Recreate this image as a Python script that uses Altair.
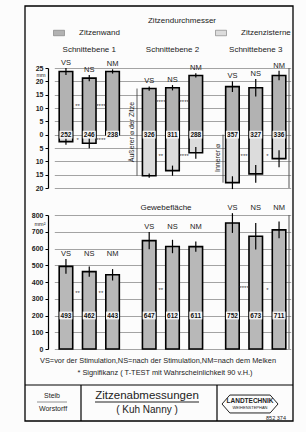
import altair as alt
import pandas as pd

FONT = "Liberation Sans"

groups = ["Schnittebene 1", "Schnittebene 2", "Schnittebene 3"]
measures = ["VS", "NS", "NM"]
parts = ["Zitzenwand", "Zitzenzisterne"]

# Zitzendurchmesser (mm): upper end, lower end, error half-lengths, printed diameter
dm_top = [23.7, 21.2, 23.7, 17.3, 17.6, 22.2, 18.0, 17.6, 22.2]
dm_bottom = [-2.6, -3.2, 0.0, -15.4, -13.5, -6.8, -18.0, -14.7, -9.0]
dm_err_top = [1.3, 1.2, 0.8, 0.8, 1.0, 0.8, 2.0, 3.3, 1.8]
dm_err_bottom = [1.2, 1.9, 0.0, 0.8, 1.9, 2.2, 2.4, 3.3, 3.2]
dm_labels = ["252", "246", "238", "326", "311", "288", "357", "327", "336"]

# Gewebefläche (mm²)
area_values = [493, 462, 443, 647, 612, 611, 752, 673, 711]
area_err = [44, 31, 34, 51, 40, 31, 59, 79, 50]

# significance markers (placed right of the named bar)
sig_dm_group = ["Schnittebene 1"] * 4 + ["Schnittebene 2"] * 4 + ["Schnittebene 3"] * 2
sig_dm_measure = ["VS", "NS", "VS", "NS", "VS", "NS", "VS", "NS", "VS", "NS"]
sig_dm_value = [10.6, 10.6, -1.9, -1.9, 12.1, 12.1, -7.9, -7.9, -7.9, -7.9]
sig_dm_text = ["**", "****", "*", "****", "****", "****", "**", "****", "***", "*"]

sig_area_group = ["Schnittebene 1", "Schnittebene 1", "Schnittebene 2", "Schnittebene 3", "Schnittebene 3"]
sig_area_measure = ["VS", "NS", "VS", "VS", "NS"]
sig_area_value = [334, 334, 354, 364, 354]
sig_area_text = ["**", "**", "**", "****", "*"]

bar_group = [g for g in groups for _ in measures]
bar_measure = measures * len(groups)

dm_df = pd.DataFrame({"group": bar_group, "measure": bar_measure, "top": dm_top,
                      "bottom": dm_bottom, "etop": dm_err_top, "ebot": dm_err_bottom,
                      "label": dm_labels})
area_df = pd.DataFrame({"group": bar_group, "measure": bar_measure, "value": area_values,
                        "err": area_err, "label": [str(v) for v in area_values]})
sig_dm_df = pd.DataFrame({"group": sig_dm_group, "measure": sig_dm_measure,
                          "value": sig_dm_value, "text": sig_dm_text})
sig_area_df = pd.DataFrame({"group": sig_area_group, "measure": sig_area_measure,
                            "value": sig_area_value, "text": sig_area_text})

X = alt.X("group:N",
          scale=alt.Scale(domain=groups, range=[6.3, 242.7], paddingInner=0.16, paddingOuter=0),
          axis=alt.Axis(orient="top", title=None, domain=False, ticks=False, tickSize=0,
                        labelPadding=15, labelFontSize=8, labelFont=FONT, labelColor="#222",
                        labelAngle=0))
XO = alt.XOffset("measure:N", scale=alt.Scale(domain=measures, paddingInner=0.42, paddingOuter=0.21))

YT_scale = alt.Scale(domain=[-20, 25], range=[120, 0], nice=False, zero=False)
YT_axis = alt.Axis(orient="left", values=list(range(-20, 30, 5)), labelExpr="abs(datum.value)",
                   grid=True, gridColor="#8c8c8c", gridWidth=0.8, domainColor="black",
                   domainWidth=1.2, tickColor="black", tickSize=3, labelFontSize=7,
                   labelFontWeight="bold", labelFont=FONT, labelColor="#222", labelPadding=2,
                   title=None)
YB_scale = alt.Scale(domain=[0, 800], range=[281, 147], nice=False, zero=True)
YB_axis = alt.Axis(orient="left", values=list(range(0, 900, 100)),
                   grid=True, gridColor="#8c8c8c", gridWidth=0.8, domainColor="black",
                   domainWidth=1.2, tickColor="black", tickSize=3, labelFontSize=7,
                   labelFontWeight="bold", labelFont=FONT, labelColor="#222", labelPadding=2,
                   title=None)


def yt(field):
    return alt.Y(field, scale=YT_scale, axis=YT_axis)


def yb(field):
    return alt.Y(field, scale=YB_scale, axis=YB_axis)


LEG_PATH = "M-1,-0.5L1,-0.5L1,0.5L-1,0.5Z"
BOX_PATH = "M-1,-0.6L1,-0.6L1,0.6L-1,0.6Z"
HEX_PATH = "M-1,0L-0.72,-0.32L0.72,-0.32L1,0L0.72,0.32L-0.72,0.32Z"

COLOR = alt.Color("part:N",
                  scale=alt.Scale(domain=parts, range=["#b2b2b2", "#dcdcdc"]),
                  legend=alt.Legend(orient="none", legendX=5, legendY=-41, direction="horizontal",
                                    title=None, symbolType=LEG_PATH, symbolSize=121,
                                    symbolStrokeColor="#777", symbolStrokeWidth=0.6,
                                    labelFont=FONT, labelFontSize=8, labelColor="#222",
                                    labelOffset=14, columnPadding=94, padding=0))

# ---------- top chart: Zitzendurchmesser ----------
dm_base = alt.Chart(dm_df)
upper = dm_base.transform_calculate(zero="0", part="'Zitzenwand'").mark_bar().encode(
    x=X, xOffset=XO, y=yt("top:Q"), y2="zero:Q", color=COLOR)
lower = dm_base.transform_calculate(zero="0", part="'Zitzenzisterne'").mark_bar().encode(
    x=X, xOffset=XO, y=yt("bottom:Q"), y2="zero:Q", color=COLOR)
outline = dm_base.mark_bar(fillOpacity=0, stroke="black", strokeWidth=1.6).encode(
    x=X, xOffset=XO, y=yt("top:Q"), y2="bottom:Q")
err_t = dm_base.transform_calculate(lo="datum.top - datum.etop", hi="datum.top + datum.etop") \
    .mark_rule(color="black", strokeWidth=1.2).encode(x=X, xOffset=XO, y=yt("lo:Q"), y2="hi:Q")
err_b = dm_base.transform_calculate(lo="datum.bottom - datum.ebot", hi="datum.bottom + datum.ebot") \
    .mark_rule(color="black", strokeWidth=1.2).encode(x=X, xOffset=XO, y=yt("lo:Q"), y2="hi:Q")
lab_t = dm_base.transform_calculate(ly="datum.top + datum.etop").mark_text(
    baseline="bottom", dy=-1, font=FONT, fontSize=7.5, color="#222").encode(
    x=X, xOffset=XO, y=yt("ly:Q"), text="measure:N")
box_t = dm_base.transform_calculate(zero="0").mark_point(
    shape=BOX_PATH, size=169, filled=True, fill="#f4f4f4", opacity=1, strokeWidth=0).encode(
    x=X, xOffset=XO, y=yt("zero:Q"))
val_t = dm_base.transform_calculate(zero="0").mark_text(
    font=FONT, fontSize=6.5, fontWeight="bold", color="#111").encode(
    x=X, xOffset=XO, y=yt("zero:Q"), text="label:N")
sig_t = alt.Chart(sig_dm_df).mark_text(dx=11.65, font=FONT, fontSize=6, color="#444").encode(
    x=X, xOffset=XO, y=yt("value:Q"), text="text:N")
br1 = dm_base.transform_filter("datum.group == 'Schnittebene 2' && datum.measure == 'VS'") \
    .mark_rule(color="#333", strokeWidth=0.8).encode(x=alt.value(89), y=yt("top:Q"), y2="bottom:Q")
br2 = dm_base.transform_filter("datum.group == 'Schnittebene 3' && datum.measure == 'VS'") \
    .transform_calculate(zero="0") \
    .mark_rule(color="#333", strokeWidth=0.8).encode(x=alt.value(175), y=yt("zero:Q"), y2="bottom:Q")

top_layer = alt.layer(upper, lower, outline, err_t, err_b, box_t, val_t, lab_t, sig_t, br1, br2)

# ---------- bottom chart: Gewebefläche ----------
ar_base = alt.Chart(area_df)
bars = ar_base.mark_bar(fill="#b8b8b8", stroke="black", strokeWidth=1.6).encode(
    x=X, xOffset=XO, y=yb("value:Q"))
err_a = ar_base.transform_calculate(lo="datum.value - datum.err", hi="datum.value + datum.err") \
    .mark_rule(color="black", strokeWidth=1.2).encode(x=X, xOffset=XO, y=yb("lo:Q"), y2="hi:Q")
lab_a = ar_base.transform_calculate(hi="datum.value + datum.err") \
    .transform_joinaggregate(gmax="max(hi)", groupby=["group"]) \
    .mark_text(baseline="bottom", dy=-1, font=FONT, fontSize=7.5, color="#222").encode(
    x=X, xOffset=XO, y=yb("gmax:Q"), text="measure:N")
box_a = ar_base.transform_calculate(lv="200").mark_point(
    shape=BOX_PATH, size=169, filled=True, fill="#f4f4f4", opacity=1, strokeWidth=0).encode(
    x=X, xOffset=XO, y=yb("lv:Q"))
val_a = ar_base.transform_calculate(lv="200").mark_text(
    font=FONT, fontSize=6.5, fontWeight="bold", color="#111").encode(
    x=X, xOffset=XO, y=yb("lv:Q"), text="label:N")
sig_a = alt.Chart(sig_area_df).mark_text(dx=11.65, font=FONT, fontSize=6, color="#444").encode(
    x=X, xOffset=XO, y=yb("value:Q"), text="text:N")

bottom_layer = alt.layer(bars, err_a, box_a, val_a, lab_a, sig_a)

# ---------- page decorations ----------
BLANK = alt.Data(values=[{}])


def txt(s, x, y, size=8, **kw):
    opts = dict(font=FONT, fontSize=size, color="#222")
    opts.update(kw)
    return alt.Chart(BLANK).mark_text(text=s, **opts).encode(x=alt.value(x), y=alt.value(y))


def hline(x1, x2, y, w=1.0, c="black"):
    return alt.Chart(BLANK).mark_rule(color=c, strokeWidth=w).encode(
        x=alt.value(x1), x2=alt.value(x2), y=alt.value(y))


def vline(x, y1, y2, w=1.0, c="black"):
    return alt.Chart(BLANK).mark_rule(color=c, strokeWidth=w).encode(
        x=alt.value(x), y=alt.value(y1), y2=alt.value(y2))


frame = alt.Chart(BLANK).mark_rect(fillOpacity=0, stroke="black", strokeWidth=1.3).encode(
    x=alt.value(-23), x2=alt.value(245), y=alt.value(-62), y2=alt.value(353))
hexagon = alt.Chart(BLANK).mark_point(shape=HEX_PATH, size=3136, filled=False,
                                      stroke="#222", strokeWidth=1, opacity=1).encode(
    x=alt.value(202), y=alt.value(336))

decor = [
    frame,
    vline(241, 0, 120, 1.0, "#555"),
    vline(241, 147, 281, 1.0, "#555"),
    hline(-23, 245, 317, 1.2),
    vline(33, 317, 353, 1.2),
    vline(169, 317, 353, 1.2),
    txt("Zitzendurchmesser", 134, -47, 8),
    txt("Gewebefläche", 118, 140, 8),
    txt("mm", -7, 7, 5.5),
    txt("mm²", -8, 156, 5.5),
    txt("Äußerer ⌀ der Zitze", 84, 64, 7, angle=270),
    txt("Innerer ⌀", 170, 90, 7, angle=270),
    txt("VS=vor der Stimulation,NS=nach der Stimulation,NM=nach dem Melken", 110, 293, 7.4),
    txt("* Signifikanz     ( T-TEST mit Wahrscheinlichkeit 90 v.H.)", 117, 305, 7.4),
    txt("Steib", 4, 328, 7),
    hline(-11, 19, 334, 0.8, "#777"),
    txt("Worstorff", 5, 341, 7),
    txt("Zitzenabmessungen", 99, 328, 11.5),
    hline(47, 151, 334, 1.0, "#222"),
    txt("( Kuh  Nanny )", 99, 342, 10),
    hexagon,
    txt("LANDTECHNIK", 202, 333, 6.5, fontWeight="bold"),
    txt("WEIHENSTEPHAN", 202, 339.5, 4),
    txt("852 374", 228, 350, 5.5),
]

chart = alt.layer(top_layer, bottom_layer, *decor).resolve_scale(y="independent").properties(
    width=242, height=281,
    autosize=alt.AutoSizeParams(type="none"),
    padding={"left": 48, "top": 68, "right": 16, "bottom": 83},
    background="#fcfcfc",
).configure_view(strokeWidth=0)

chart.save("out.html", embed_options={"renderer": "svg", "actions": False})
